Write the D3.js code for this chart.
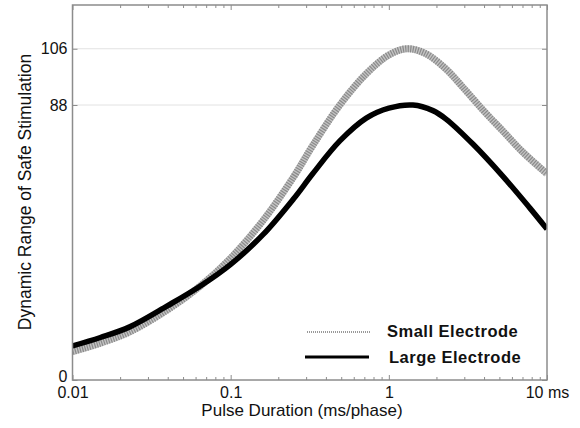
<!DOCTYPE html>
<html>
<head>
<meta charset="utf-8">
<script src="https://cdn.jsdelivr.net/npm/d3@7/dist/d3.min.js"></script>
<style>
  html, body { margin: 0; padding: 0; background: #fff; }
  svg { display: block; font-family: "Liberation Sans", Arial, sans-serif; }
</style>
</head>
<body>
<svg id="chart" width="580" height="428"></svg>
<script>
// ---- data ----
const smallDuration = [0.01, 0.015, 0.023, 0.04, 0.064, 0.1, 0.16, 0.25, 0.33, 0.49, 0.72, 1.0, 1.3, 1.7, 2.3, 2.9, 4.0, 5.3, 7.0, 10];
const smallValues   = [9.1, 11.8, 15.4, 22.5, 30, 39, 51, 65, 75, 88, 98, 104, 106, 104.5, 99.5, 94, 86, 79.5, 73, 66];
const largeDuration = [0.01, 0.015, 0.023, 0.04, 0.064, 0.1, 0.16, 0.25, 0.33, 0.49, 0.72, 1.0, 1.42, 1.9, 2.3, 3.4, 5.3, 7.8, 10];
const largeValues   = [10.9, 13.6, 17, 23.8, 30, 37, 46.5, 58, 66, 76.5, 83.8, 87, 88, 86.2, 83.5, 75.5, 65, 55, 48.3];
const yTickValues = [0, 88, 106];
const xMajorTicks = [0.01, 0.1, 1, 10];
const xTickLabels = ["0.01", "0.1", "1", "10 ms"];
const seriesNames = ["Small Electrode", "Large Electrode"];
const xTitle = "Pulse Duration (ms/phase)";
const yTitle = "Dynamic Range of Safe Stimulation";

// ---- layout ----
const svg = d3.select("#chart");
const L = 72.5, R = 547, T = 5, B = 380;
const x = d3.scaleLog().domain([0.01, 10]).range([L, R]);
const y = d3.scaleLinear().domain([0, 120]).range([B, T]);

const xMinor = [];
[0.01, 0.1, 1].forEach(d => { for (let k = 2; k <= 9; k++) xMinor.push(+(d * k).toFixed(4)); });

const axisColor = "#8c8c8c";

// gridlines
svg.append("g").selectAll("line").data([88, 106]).join("line")
  .attr("x1", L).attr("x2", R)
  .attr("y1", d => y(d)).attr("y2", d => y(d))
  .attr("stroke", "#e2e2e2").attr("stroke-width", 1);

function styleAxis(g) {
  g.select(".domain").remove();
  g.selectAll(".tick line").attr("stroke", axisColor).attr("stroke-width", 1);
  g.selectAll(".tick text").attr("fill", "#111").attr("font-size", 16);
}

// bottom axis major
svg.append("g").attr("transform", `translate(0,${B})`)
  .call(d3.axisBottom(x).tickValues(xMajorTicks).tickSize(-5).tickPadding(7)
    .tickFormat((d, i) => xTickLabels[i]))
  .call(styleAxis);
// bottom minor
svg.append("g").attr("transform", `translate(0,${B})`)
  .call(d3.axisBottom(x).tickValues(xMinor).tickSize(-3).tickFormat(""))
  .call(styleAxis);
// top axis major+minor
svg.append("g").attr("transform", `translate(0,${T})`)
  .call(d3.axisTop(x).tickValues(xMajorTicks).tickSize(-5).tickFormat(""))
  .call(styleAxis);
svg.append("g").attr("transform", `translate(0,${T})`)
  .call(d3.axisTop(x).tickValues(xMinor).tickSize(-3).tickFormat(""))
  .call(styleAxis);
// left axis
const yAx = svg.append("g").attr("transform", `translate(${L},0)`)
  .call(d3.axisLeft(y).tickValues(yTickValues).tickSize(-5).tickPadding(5).tickFormat(d3.format("d")))
  .call(styleAxis);
yAx.selectAll(".tick text").filter(d => d === 0).attr("dy", "0.1em");
// right axis
svg.append("g").attr("transform", `translate(${R},0)`)
  .call(d3.axisRight(y).tickValues(yTickValues).tickSize(-5).tickFormat(""))
  .call(styleAxis);

// curves
const line = d3.line().curve(d3.curveCatmullRom.alpha(0.5));
const smallPts = smallDuration.map((d, i) => [x(d), y(smallValues[i])]);
const largePts = largeDuration.map((d, i) => [x(d), y(largeValues[i])]);

svg.append("clipPath").attr("id", "plotclip")
  .append("rect").attr("x", L).attr("y", T).attr("width", R - L).attr("height", B - T);

const curves = svg.append("g").attr("clip-path", "url(#plotclip)");
curves.append("path").attr("d", line(smallPts))
  .attr("fill", "none").attr("stroke", "#c4c4c4").attr("stroke-width", 7);
curves.append("path").attr("d", line(smallPts))
  .attr("fill", "none").attr("stroke", "#8a8a8a").attr("stroke-width", 7)
  .attr("stroke-dasharray", "1.2,1.3");
curves.append("path").attr("d", line(largePts))
  .attr("fill", "none").attr("stroke", "#000").attr("stroke-width", 5.5);

// frame
svg.append("rect").attr("x", L).attr("y", T).attr("width", R - L).attr("height", B - T)
  .attr("fill", "none").attr("stroke", axisColor).attr("stroke-width", 1.5);

// legend
const leg = svg.append("g");
leg.append("line").attr("x1", 307).attr("x2", 370).attr("y1", 332).attr("y2", 332)
  .attr("stroke", "#999").attr("stroke-width", 2).attr("stroke-dasharray", "1,1");
leg.append("line").attr("x1", 305).attr("x2", 369).attr("y1", 357).attr("y2", 357)
  .attr("stroke", "#000").attr("stroke-width", 3);
leg.append("text").attr("x", 387).attr("y", 337).text(seriesNames[0])
  .attr("font-size", 16.5).attr("letter-spacing", 0.5).attr("font-weight", "bold").attr("fill", "#111");
leg.append("text").attr("x", 389).attr("y", 363).text(seriesNames[1])
  .attr("font-size", 16.5).attr("letter-spacing", 0.5).attr("font-weight", "bold").attr("fill", "#111");

// titles
svg.append("text").attr("x", 302).attr("y", 416).attr("text-anchor", "middle")
  .attr("font-size", 17).attr("fill", "#111").text(xTitle);
svg.append("text").attr("transform", "translate(31,192) rotate(-90)")
  .attr("text-anchor", "middle").attr("font-size", 17.5).attr("fill", "#111").text(yTitle);
</script>
</body>
</html>
